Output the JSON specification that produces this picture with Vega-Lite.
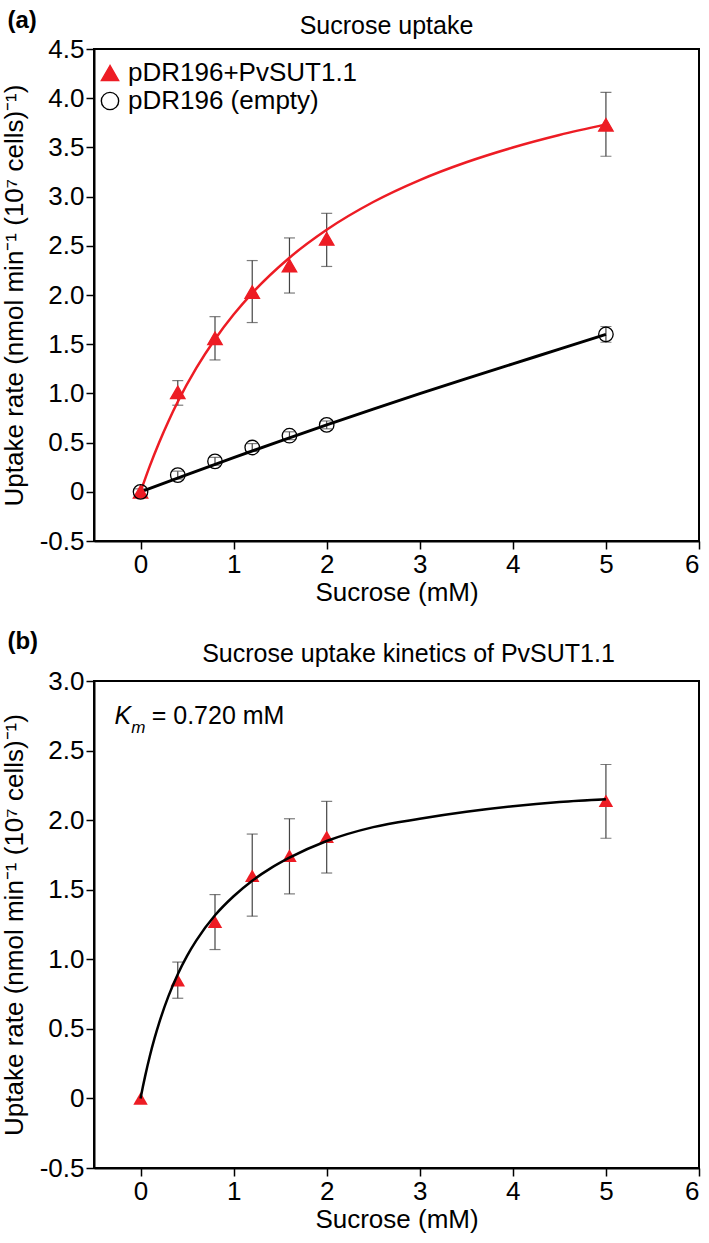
{
  "$schema": "https://vega.github.io/schema/vega-lite/v6.json",
  "background": "white",
  "padding": {"left": 0, "top": 8, "right": 4, "bottom": 4},
  "spacing": 23,
  "config": {
    "font": "Liberation Sans",
    "view": {"stroke": "black", "strokeWidth": 2},
    "axis": {
      "grid": false,
      "domainColor": "black",
      "domainWidth": 2,
      "tickColor": "black",
      "tickWidth": 1.5,
      "tickSize": 8,
      "labelFont": "Liberation Sans",
      "labelFontSize": 26,
      "labelColor": "black",
      "labelPadding": 2,
      "titleFont": "Liberation Sans",
      "titleFontSize": 26,
      "titleFontWeight": "normal",
      "titleColor": "black"
    },
    "title": {"font": "Liberation Sans", "fontSize": 25, "fontWeight": "normal", "color": "black", "frame": "group", "anchor": "middle"},
    "legend": {
      "labelFont": "Liberation Sans",
      "labelFontSize": 26,
      "labelColor": "black",
      "labelLimit": 0,
      "symbolSize": 300,
      "symbolStrokeWidth": 1.4,
      "labelOffset": 5,
      "rowPadding": 2,
      "padding": 0
    }
  },
  "datasets": {
    "a_pts": [
      {"conc": 0, "rate": 0, "lo": null, "hi": null, "series": "pDR196+PvSUT1.1"},
      {"conc": 0.4, "rate": 1.01, "lo": 0.88, "hi": 1.13, "series": "pDR196+PvSUT1.1"},
      {"conc": 0.8, "rate": 1.56, "lo": 1.34, "hi": 1.78, "series": "pDR196+PvSUT1.1"},
      {"conc": 1.2, "rate": 2.03, "lo": 1.72, "hi": 2.35, "series": "pDR196+PvSUT1.1"},
      {"conc": 1.6, "rate": 2.30, "lo": 2.02, "hi": 2.58, "series": "pDR196+PvSUT1.1"},
      {"conc": 2.0, "rate": 2.57, "lo": 2.29, "hi": 2.83, "series": "pDR196+PvSUT1.1"},
      {"conc": 5.0, "rate": 3.73, "lo": 3.41, "hi": 4.06, "series": "pDR196+PvSUT1.1"},
      {"conc": 0, "rate": 0, "lo": -0.03, "hi": 0.03, "series": "pDR196 (empty)"},
      {"conc": 0.4, "rate": 0.17, "lo": 0.13, "hi": 0.21, "series": "pDR196 (empty)"},
      {"conc": 0.8, "rate": 0.31, "lo": 0.27, "hi": 0.35, "series": "pDR196 (empty)"},
      {"conc": 1.2, "rate": 0.45, "lo": 0.41, "hi": 0.49, "series": "pDR196 (empty)"},
      {"conc": 1.6, "rate": 0.57, "lo": 0.53, "hi": 0.61, "series": "pDR196 (empty)"},
      {"conc": 2.0, "rate": 0.68, "lo": 0.64, "hi": 0.72, "series": "pDR196 (empty)"},
      {"conc": 5.0, "rate": 1.60, "lo": 1.52, "hi": 1.68, "series": "pDR196 (empty)"}
    ],
    "a_fit_red": [
      {"conc": 0, "rate": 0}, {"conc": 0.1, "rate": 0.264}, {"conc": 0.2, "rate": 0.502},
      {"conc": 0.3, "rate": 0.718}, {"conc": 0.4, "rate": 0.915}, {"conc": 0.6, "rate": 1.259},
      {"conc": 0.8, "rate": 1.551}, {"conc": 1.0, "rate": 1.802}, {"conc": 1.2, "rate": 2.02},
      {"conc": 1.6, "rate": 2.379}, {"conc": 2.0, "rate": 2.663}, {"conc": 2.5, "rate": 2.945},
      {"conc": 3.0, "rate": 3.168}, {"conc": 3.5, "rate": 3.349}, {"conc": 4.0, "rate": 3.499},
      {"conc": 4.5, "rate": 3.626}, {"conc": 5.0, "rate": 3.734}
    ],
    "a_fit_black": [
      {"conc": 0, "rate": 0}, {"conc": 0.5, "rate": 0.175}, {"conc": 1.0, "rate": 0.347},
      {"conc": 1.5, "rate": 0.515}, {"conc": 2.0, "rate": 0.68}, {"conc": 2.5, "rate": 0.84},
      {"conc": 3.0, "rate": 0.997}, {"conc": 3.5, "rate": 1.15}, {"conc": 4.0, "rate": 1.30},
      {"conc": 4.5, "rate": 1.45}, {"conc": 5.0, "rate": 1.60}
    ],
    "b_pts": [
      {"conc": 0, "rate": 0, "lo": null, "hi": null},
      {"conc": 0.4, "rate": 0.85, "lo": 0.72, "hi": 0.98},
      {"conc": 0.8, "rate": 1.27, "lo": 1.07, "hi": 1.465},
      {"conc": 1.2, "rate": 1.60, "lo": 1.31, "hi": 1.90},
      {"conc": 1.6, "rate": 1.745, "lo": 1.47, "hi": 2.01},
      {"conc": 2.0, "rate": 1.88, "lo": 1.62, "hi": 2.135},
      {"conc": 5.0, "rate": 2.14, "lo": 1.87, "hi": 2.40}
    ],
    "b_fit": [
      {"conc": 0, "rate": 0}, {"conc": 0.025, "rate": 0.084}, {"conc": 0.05, "rate": 0.162},
      {"conc": 0.1, "rate": 0.305}, {"conc": 0.15, "rate": 0.431}, {"conc": 0.2, "rate": 0.543},
      {"conc": 0.3, "rate": 0.735}, {"conc": 0.4, "rate": 0.893}, {"conc": 0.5, "rate": 1.025},
      {"conc": 0.6, "rate": 1.136}, {"conc": 0.8, "rate": 1.316}, {"conc": 1.0, "rate": 1.453},
      {"conc": 1.2, "rate": 1.565}, {"conc": 1.4, "rate": 1.655}, {"conc": 1.6, "rate": 1.73},
      {"conc": 2.0, "rate": 1.85}, {"conc": 2.5, "rate": 1.95}, {"conc": 3.0, "rate": 2.01},
      {"conc": 3.5, "rate": 2.06}, {"conc": 4.0, "rate": 2.10}, {"conc": 4.5, "rate": 2.13},
      {"conc": 5.0, "rate": 2.15}
    ]
  },
  "vconcat": [
    {
      "width": 605,
      "height": 492,
      "title": {"text": "Sucrose uptake", "offset": -30, "dx": -10},
      "layer": [
        {
          "data": {"name": "a_pts"},
          "mark": {"type": "rule", "color": "#444", "strokeWidth": 1.2},
          "encoding": {
            "x": {"field": "conc", "type": "quantitative", "title": "Sucrose (mM)", "scale": {"domain": [-0.5, 6], "nice": false, "zero": false}, "axis": {"values": [0, 1, 2, 3, 4, 5, 6], "format": "d", "titlePadding": 2}},
            "y": {"field": "lo", "type": "quantitative", "title": "Uptake rate (nmol min⁻¹ (10⁷ cells)⁻¹)", "scale": {"domain": [-0.5, 4.5], "nice": false, "zero": false}, "axis": {"values": [-0.5, 0, 0.5, 1, 1.5, 2, 2.5, 3, 3.5, 4, 4.5], "labelExpr": "datum.value == 0 ? '0' : (datum.value < 0 ? '-' + format(-datum.value, '.1f') : format(datum.value, '.1f'))", "titlePadding": 12}},
            "y2": {"field": "hi"}
          }
        },
        {
          "data": {"name": "a_pts"},
          "mark": {"type": "tick", "orient": "horizontal", "size": 11, "thickness": 1.2, "color": "#444"},
          "encoding": {
            "x": {"field": "conc", "type": "quantitative", "title": "Sucrose (mM)", "scale": {"domain": [-0.5, 6], "nice": false, "zero": false}},
            "y": {"field": "lo", "type": "quantitative", "title": "Uptake rate (nmol min⁻¹ (10⁷ cells)⁻¹)", "scale": {"domain": [-0.5, 4.5], "nice": false, "zero": false}}
          }
        },
        {
          "data": {"name": "a_pts"},
          "mark": {"type": "tick", "orient": "horizontal", "size": 11, "thickness": 1.2, "color": "#444"},
          "encoding": {
            "x": {"field": "conc", "type": "quantitative", "title": "Sucrose (mM)", "scale": {"domain": [-0.5, 6], "nice": false, "zero": false}},
            "y": {"field": "hi", "type": "quantitative", "title": "Uptake rate (nmol min⁻¹ (10⁷ cells)⁻¹)", "scale": {"domain": [-0.5, 4.5], "nice": false, "zero": false}}
          }
        },
        {
          "data": {"name": "a_fit_black"},
          "mark": {"type": "line", "color": "black", "strokeWidth": 3, "interpolate": "monotone"},
          "encoding": {
            "x": {"field": "conc", "type": "quantitative", "title": "Sucrose (mM)", "scale": {"domain": [-0.5, 6], "nice": false, "zero": false}},
            "y": {"field": "rate", "type": "quantitative", "title": "Uptake rate (nmol min⁻¹ (10⁷ cells)⁻¹)", "scale": {"domain": [-0.5, 4.5], "nice": false, "zero": false}}
          }
        },
        {
          "data": {"name": "a_fit_red"},
          "mark": {"type": "line", "color": "#ED1C24", "strokeWidth": 2.5, "interpolate": "monotone"},
          "encoding": {
            "x": {"field": "conc", "type": "quantitative", "title": "Sucrose (mM)", "scale": {"domain": [-0.5, 6], "nice": false, "zero": false}},
            "y": {"field": "rate", "type": "quantitative", "title": "Uptake rate (nmol min⁻¹ (10⁷ cells)⁻¹)", "scale": {"domain": [-0.5, 4.5], "nice": false, "zero": false}}
          }
        },
        {
          "data": {"name": "a_pts"},
          "mark": {"type": "point", "size": 210, "strokeWidth": 1.3, "opacity": 1},
          "encoding": {
            "x": {"field": "conc", "type": "quantitative", "title": "Sucrose (mM)", "scale": {"domain": [-0.5, 6], "nice": false, "zero": false}},
            "y": {"field": "rate", "type": "quantitative", "title": "Uptake rate (nmol min⁻¹ (10⁷ cells)⁻¹)", "scale": {"domain": [-0.5, 4.5], "nice": false, "zero": false}},
            "shape": {"field": "series", "type": "nominal", "title": null, "scale": {"domain": ["pDR196+PvSUT1.1", "pDR196 (empty)"], "range": ["triangle-up", "circle"]}, "legend": {"orient": "none", "legendX": 3, "legendY": 11, "title": null}},
            "fill": {"field": "series", "type": "nominal", "title": null, "scale": {"domain": ["pDR196+PvSUT1.1", "pDR196 (empty)"], "range": ["#ED1C24", "transparent"]}, "legend": {"orient": "none", "legendX": 3, "legendY": 11, "title": null}},
            "stroke": {"field": "series", "type": "nominal", "title": null, "scale": {"domain": ["pDR196+PvSUT1.1", "pDR196 (empty)"], "range": ["#ED1C24", "black"]}, "legend": {"orient": "none", "legendX": 3, "legendY": 11, "title": null}}
          }
        },
        {
          "data": {"values": [{}]},
          "mark": {"type": "text", "text": "(a)", "fontWeight": "bold", "fontSize": 24, "align": "left", "baseline": "alphabetic", "color": "black"},
          "encoding": {
            "x": {"datum": -1.43, "type": "quantitative", "scale": {"domain": [-0.5, 6], "nice": false, "zero": false}},
            "y": {"datum": 4.71, "type": "quantitative", "scale": {"domain": [-0.5, 4.5], "nice": false, "zero": false}}
          }
        }
      ]
    },
    {
      "width": 605,
      "height": 487,
      "title": {"text": "Sucrose uptake kinetics of PvSUT1.1", "offset": -37, "dx": 12},
      "layer": [
        {
          "data": {"name": "b_pts"},
          "mark": {"type": "rule", "color": "#444", "strokeWidth": 1.2},
          "encoding": {
            "x": {"field": "conc", "type": "quantitative", "title": "Sucrose (mM)", "scale": {"domain": [-0.5, 6], "nice": false, "zero": false}, "axis": {"values": [0, 1, 2, 3, 4, 5, 6], "format": "d", "titlePadding": 2}},
            "y": {"field": "lo", "type": "quantitative", "title": "Uptake rate (nmol min⁻¹ (10⁷ cells)⁻¹)", "scale": {"domain": [-0.5, 3], "nice": false, "zero": false}, "axis": {"values": [-0.5, 0, 0.5, 1, 1.5, 2, 2.5, 3], "labelExpr": "datum.value == 0 ? '0' : (datum.value < 0 ? '-' + format(-datum.value, '.1f') : format(datum.value, '.1f'))", "titlePadding": 12}},
            "y2": {"field": "hi"}
          }
        },
        {
          "data": {"name": "b_pts"},
          "mark": {"type": "tick", "orient": "horizontal", "size": 11, "thickness": 1.2, "color": "#444"},
          "encoding": {
            "x": {"field": "conc", "type": "quantitative", "title": "Sucrose (mM)", "scale": {"domain": [-0.5, 6], "nice": false, "zero": false}},
            "y": {"field": "lo", "type": "quantitative", "title": "Uptake rate (nmol min⁻¹ (10⁷ cells)⁻¹)", "scale": {"domain": [-0.5, 3], "nice": false, "zero": false}}
          }
        },
        {
          "data": {"name": "b_pts"},
          "mark": {"type": "tick", "orient": "horizontal", "size": 11, "thickness": 1.2, "color": "#444"},
          "encoding": {
            "x": {"field": "conc", "type": "quantitative", "title": "Sucrose (mM)", "scale": {"domain": [-0.5, 6], "nice": false, "zero": false}},
            "y": {"field": "hi", "type": "quantitative", "title": "Uptake rate (nmol min⁻¹ (10⁷ cells)⁻¹)", "scale": {"domain": [-0.5, 3], "nice": false, "zero": false}}
          }
        },
        {
          "data": {"name": "b_pts"},
          "mark": {"type": "point", "shape": "triangle-up", "size": 210, "filled": true, "color": "#ED1C24", "opacity": 1},
          "encoding": {
            "x": {"field": "conc", "type": "quantitative", "title": "Sucrose (mM)", "scale": {"domain": [-0.5, 6], "nice": false, "zero": false}},
            "y": {"field": "rate", "type": "quantitative", "title": "Uptake rate (nmol min⁻¹ (10⁷ cells)⁻¹)", "scale": {"domain": [-0.5, 3], "nice": false, "zero": false}}
          }
        },
        {
          "data": {"name": "b_fit"},
          "mark": {"type": "line", "color": "black", "strokeWidth": 2.5, "interpolate": "monotone"},
          "encoding": {
            "x": {"field": "conc", "type": "quantitative", "title": "Sucrose (mM)", "scale": {"domain": [-0.5, 6], "nice": false, "zero": false}},
            "y": {"field": "rate", "type": "quantitative", "title": "Uptake rate (nmol min⁻¹ (10⁷ cells)⁻¹)", "scale": {"domain": [-0.5, 3], "nice": false, "zero": false}}
          }
        },
        {
          "data": {"values": [{}]},
          "mark": {"type": "text", "text": "(b)", "fontWeight": "bold", "fontSize": 24, "align": "left", "baseline": "alphabetic", "color": "black"},
          "encoding": {
            "x": {"datum": -1.43, "type": "quantitative", "scale": {"domain": [-0.5, 6], "nice": false, "zero": false}},
            "y": {"datum": 3.228, "type": "quantitative", "scale": {"domain": [-0.5, 3], "nice": false, "zero": false}}
          }
        },
        {
          "data": {"values": [{}]},
          "mark": {"type": "text", "text": "K", "fontStyle": "italic", "fontSize": 25, "align": "left", "baseline": "alphabetic", "color": "black"},
          "encoding": {
            "x": {"datum": -0.28, "type": "quantitative", "scale": {"domain": [-0.5, 6], "nice": false, "zero": false}},
            "y": {"datum": 2.69, "type": "quantitative", "scale": {"domain": [-0.5, 3], "nice": false, "zero": false}}
          }
        },
        {
          "data": {"values": [{}]},
          "mark": {"type": "text", "text": "m", "fontStyle": "italic", "fontSize": 17, "align": "left", "baseline": "alphabetic", "color": "black"},
          "encoding": {
            "x": {"datum": -0.1, "type": "quantitative", "scale": {"domain": [-0.5, 6], "nice": false, "zero": false}},
            "y": {"datum": 2.628, "type": "quantitative", "scale": {"domain": [-0.5, 3], "nice": false, "zero": false}}
          }
        },
        {
          "data": {"values": [{}]},
          "mark": {"type": "text", "text": "= 0.720 mM", "fontSize": 25, "align": "left", "baseline": "alphabetic", "color": "black"},
          "encoding": {
            "x": {"datum": 0.12, "type": "quantitative", "scale": {"domain": [-0.5, 6], "nice": false, "zero": false}},
            "y": {"datum": 2.69, "type": "quantitative", "scale": {"domain": [-0.5, 3], "nice": false, "zero": false}}
          }
        }
      ]
    }
  ]
}
